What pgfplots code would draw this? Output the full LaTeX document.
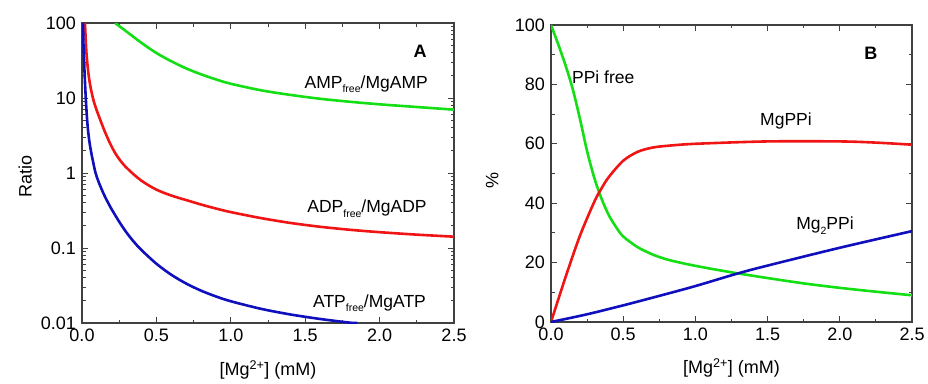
\documentclass[border=0pt]{standalone}
\usepackage{fontspec}
\setmainfont{Liberation Sans}
\usepackage{pgfplots}
\pgfplotsset{compat=1.18}
\definecolor{cgreen}{RGB}{20,222,20}
\definecolor{cred}{RGB}{240,20,20}
\definecolor{cblue}{RGB}{15,15,190}
\newcommand{\sub}[1]{\raisebox{-0.45ex}{\fontsize{10.5}{10.5}\selectfont #1}}
\begin{document}
\fontsize{18}{21}\selectfont
\begin{tikzpicture}
\useasboundingbox (0,0) rectangle (928pt,383pt);
\pgfplotsset{
  myaxis/.style={
    scale only axis,
    anchor=south west,
    axis line style={line width=1.2pt, black!75},
    every tick/.style={line width=0.9pt, black!75},
    tick align=inside,
    major tick length=6pt,
    minor tick length=3.5pt,
    xmin=0, xmax=2.5,
    xtick={0,0.5,1,1.5,2,2.5},
    xticklabels={0.0,0.5,1.0,1.5,2.0,2.5},
    minor x tick num=1,
    ticklabel style={font=\fontsize{18}{21}\selectfont},
    label style={font=\fontsize{18}{21}\selectfont},
    /pgf/number format/assume math mode=true,
    every axis plot/.append style={line width=2.6pt, smooth, no marks},
    clip=true,
  }
}
\begin{axis}[myaxis,
  at={(82pt,60pt)}, width=372pt, height=300pt,
  ymode=log, ymin=0.01, ymax=100,
  ytick={0.01,0.1,1,10,100},
  yticklabels={0.01,0.1,1,10,100},
  xlabel={[Mg\textsuperscript{2+}] (mM)},
  ylabel={Ratio},
  xlabel style={at={(axis description cs:0.5,-0.157)}, anchor=center},
  ylabel style={at={(axis description cs:-0.153,0.49)}, anchor=center},
]
% AMP_free / MgAMP
\addplot[cgreen] coordinates {
(0.222,100) (0.3,76.7) (0.4,54.3) (0.5,39.8) (0.6,30.9) (0.7,24.8) (0.8,20.7)
(0.9,17.7) (1.0,15.5) (1.2,12.7) (1.4,11.0) (1.6,9.77) (1.8,8.91) (2.0,8.24)
(2.2,7.71) (2.5,7.0)};
% ADP_free / MgADP
\addplot[cred] coordinates {
(0.02,100) (0.025,60.3) (0.03,39.8) (0.04,24.0) (0.05,17.0) (0.063,12.3)
(0.08,8.91) (0.1,6.76) (0.13,4.68) (0.157,3.43) (0.19,2.45) (0.224,1.83)
(0.26,1.445) (0.291,1.222) (0.325,1.052) (0.358,0.918) (0.4,0.789)
(0.448,0.684) (0.5,0.60) (0.56,0.535) (0.62,0.486) (0.672,0.452) (0.7,0.436)
(0.8,0.38) (0.9,0.336) (1.0,0.301) (1.2,0.251) (1.4,0.216) (1.6,0.192)
(1.8,0.175) (2.0,0.1626) (2.25,0.1507) (2.5,0.1416)};
% ATP_free / MgATP
\addplot[cblue] coordinates {
(0.007,100) (0.01,50.1) (0.014,31.6) (0.018,20.0) (0.022,13.5) (0.027,8.71)
(0.033,5.62) (0.04,3.80) (0.05,2.60) (0.063,1.83) (0.075,1.40) (0.09,1.02)
(0.11,0.776) (0.134,0.594) (0.155,0.481) (0.179,0.389) (0.2,0.327) (0.25,0.224)
(0.3,0.160) (0.35,0.120) (0.4,0.0938) (0.5,0.0617) (0.6,0.044) (0.7,0.0336)
(0.8,0.027) (0.9,0.0226) (1.0,0.0195) (1.2,0.0155) (1.4,0.013) (1.6,0.01132)
(1.8,0.0101) (1.85,0.01)};
\node[font=\fontsize{18}{21}\selectfont\bfseries] at (rel axis cs:0.909,0.907) {A};
\node[anchor=base east, inner sep=0pt, font=\fontsize{17.5}{21}\selectfont] at (rel axis cs:0.93,0.783) {AMP\sub{free}/MgAMP};
\node[anchor=base east, inner sep=0pt, font=\fontsize{17.5}{21}\selectfont] at (rel axis cs:0.927,0.367) {ADP\sub{free}/MgADP};
\node[anchor=base east, inner sep=0pt, font=\fontsize{17.5}{21}\selectfont] at (rel axis cs:0.925,0.053) {ATP\sub{free}/MgATP};
\end{axis}
\begin{axis}[myaxis,
  at={(551pt,61pt)}, width=361pt, height=297pt,
  ymin=0, ymax=100,
  ytick={0,20,40,60,80,100},
  minor y tick num=1,
  xlabel={[Mg\textsuperscript{2+}] (mM)},
  ylabel={\%},
  xlabel style={at={(axis description cs:0.5,-0.155)}, anchor=center},
  ylabel style={at={(axis description cs:-0.163,0.478)}, anchor=center},
]
% PPi free
\addplot[cgreen] coordinates {
(0,100) (0.05,93.5) (0.1,86.5) (0.15,78.5) (0.2,68.5) (0.25,57.5) (0.3,48.5)
(0.35,41.5) (0.4,36) (0.45,32) (0.5,28.8) (0.6,25.2) (0.7,22.8) (0.8,21.1)
(0.94,19.5) (1.1,18.0) (1.29,16.4) (1.5,14.8) (1.75,13.0) (2.0,11.5)
(2.25,10.2) (2.5,9.0)};
% MgPPi
\addplot[cred] coordinates {
(0,0) (0.1,15) (0.2,29) (0.3,40.5) (0.35,45) (0.4,48.8) (0.5,54.3) (0.6,57.3)
(0.7,58.7) (0.8,59.3) (1.0,60) (1.5,60.8) (2.0,60.8) (2.25,60.4) (2.5,59.7)};
% Mg2PPi
\addplot[cblue] coordinates {
(0,0) (0.25,2.6) (0.5,5.6) (0.75,8.8) (1.0,12.1) (1.29,16.3) (1.5,19)
(2.0,25) (2.5,30.6)};
\node[font=\fontsize{18}{21}\selectfont\bfseries] at (rel axis cs:0.886,0.904) {B};
\node[anchor=base west, inner sep=0pt, font=\fontsize{17.5}{21}\selectfont] at (rel axis cs:0.058,0.804) {PPi free};
\node[anchor=base west, inner sep=0pt, font=\fontsize{17.5}{21}\selectfont] at (rel axis cs:0.579,0.663) {MgPPi};
\node[anchor=base west, inner sep=0pt, font=\fontsize{17.5}{21}\selectfont] at (rel axis cs:0.679,0.31) {Mg\sub{2}PPi};
\end{axis}
\end{tikzpicture}
\end{document}
